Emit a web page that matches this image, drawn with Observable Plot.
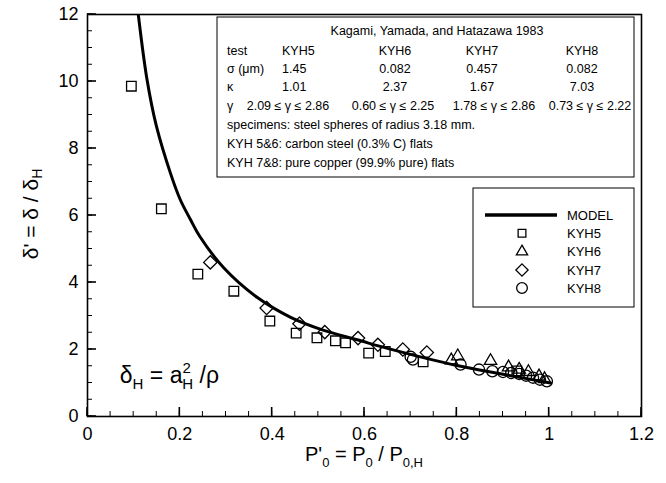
<!DOCTYPE html>
<html><head><meta charset="utf-8">
<script src="https://cdn.jsdelivr.net/npm/d3@7"></script>
<script src="https://cdn.jsdelivr.net/npm/@observablehq/plot@0.6"></script>
<style>body{margin:0;background:#fff} #chart{position:relative;width:666px;height:483px}</style>
</head><body><div id="chart"></div>
<script>
// ---- tick labels ----
const xTicks = [0, 0.2, 0.4, 0.6, 0.8, 1, 1.2];
const xTickLabels = ["0", "0.2", "0.4", "0.6", "0.8", "1", "1.2"];
const yTicks = [0, 2, 4, 6, 8, 10, 12];
const yTickLabels = ["0", "2", "4", "6", "8", "10", "12"];

// ---- model curve ----
const modelP = [0.110, 0.129, 0.149, 0.180, 0.201, 0.223, 0.243, 0.295, 0.368, 0.440, 0.512, 0.584, 0.656, 0.800, 0.900, 1.003];
const modelD = [12.0, 10.05, 8.68, 7.25, 6.47, 5.88, 5.38, 4.44, 3.55, 2.96, 2.57, 2.29, 2.01, 1.52, 1.26, 1.00];

// ---- experimental series ----
const kyh5P = [0.095, 0.160, 0.239, 0.317, 0.395, 0.452, 0.497, 0.537, 0.559, 0.609, 0.645, 0.727, 0.930];
const kyh5D = [9.86, 6.20, 4.25, 3.74, 2.85, 2.49, 2.35, 2.26, 2.20, 1.89, 1.94, 1.63, 1.36];
const kyh6P = [0.788, 0.802, 0.873, 0.912, 0.935, 0.955, 0.978, 0.990];
const kyh6D = [1.68, 1.80, 1.66, 1.47, 1.40, 1.33, 1.20, 1.12];
const kyh7P = [0.266, 0.388, 0.459, 0.514, 0.586, 0.629, 0.683, 0.735];
const kyh7D = [4.60, 3.24, 2.77, 2.52, 2.34, 2.14, 2.00, 1.91];
const kyh8P = [0.700, 0.705, 0.808, 0.848, 0.877, 0.900, 0.918, 0.935, 0.950, 0.965, 0.980, 0.995];
const kyh8D = [1.78, 1.70, 1.55, 1.40, 1.35, 1.33, 1.30, 1.27, 1.22, 1.16, 1.10, 1.05];

// ---- legend / table texts ----
const legendNames = ["MODEL", "KYH5", "KYH6", "KYH7", "KYH8"];
const tableTitle = "Kagami, Yamada, and Hatazawa 1983";
const testNames = ["KYH5", "KYH6", "KYH7", "KYH8"];
const sigmaVals = ["1.45", "0.082", "0.457", "0.082"];
const kappaVals = ["1.01", "2.37", "1.67", "7.03"];
const gammaVals = ["2.09 \u2264 \u03b3 \u2264 2.86", "0.60 \u2264 \u03b3 \u2264 2.25", "1.78 \u2264 \u03b3 \u2264 2.86", "0.73 \u2264 \u03b3 \u2264 2.22"];
const rowHeads = ["test", "\u03c3 (\u03bcm)", "\u03ba", "\u03b3"];
const notes = ["specimens: steel spheres of radius 3.18 mm.", "KYH 5&6: carbon steel (0.3% C) flats", "KYH 7&8: pure copper (99.9% pure) flats"];

const zip = (xs, ys) => xs.map((x, i) => ({x, y: ys[i]}));
const model = zip(modelP, modelD);
const k5 = zip(kyh5P, kyh5D), k6 = zip(kyh6P, kyh6D), k7 = zip(kyh7P, kyh7D), k8 = zip(kyh8P, kyh8D);

const diamond = {draw(ctx, size) { const h = Math.sqrt(size / 2); ctx.moveTo(0, -h); ctx.lineTo(h, 0); ctx.lineTo(0, h); ctx.lineTo(-h, 0); ctx.closePath(); }};
const xMinor = d3.range(0, 1.2001, 0.05);
const yMinor = d3.range(0, 12.001, 0.5);
const FONT = "'Liberation Sans', Arial, Helvetica, sans-serif";

const plot = Plot.plot({
  width: 666, height: 483,
  marginLeft: 87, marginRight: 25, marginTop: 14, marginBottom: 67,
  x: {domain: [0, 1.2]},
  y: {domain: [0, 12]},
  style: {fontFamily: FONT, background: "white", color: "black"},
  marks: [
    Plot.axisX({ticks: xTicks, tickSize: 0, tickPadding: 11, fontSize: 18, tickFormat: d => xTickLabels[xTicks.indexOf(d)], label: null}),
    Plot.axisY({ticks: yTicks, tickSize: 0, tickPadding: 9, fontSize: 18, tickFormat: d => yTickLabels[yTicks.indexOf(d)], label: null}),
    Plot.frame({strokeWidth: 1.6}),
    Plot.line(model, {x: "x", y: "y", stroke: "black", strokeWidth: 3, curve: "catmull-rom", clip: true}),
    Plot.dot(k5, {x: "x", y: "y", symbol: "square", r: 5.4, stroke: "black", strokeWidth: 1.3, fill: "none"}),
    Plot.dot(k6, {x: "x", y: "y", symbol: "triangle", r: 4.6, stroke: "black", strokeWidth: 1.3, fill: "none"}),
    Plot.dot(k7, {x: "x", y: "y", symbol: diamond, r: 5.3, stroke: "black", strokeWidth: 1.3, fill: "none"}),
    Plot.dot(k8, {x: "x", y: "y", symbol: "circle", r: 5.6, stroke: "black", strokeWidth: 1.3, fill: "none"})
  ]
});
document.getElementById("chart").appendChild(plot);

const svg = d3.select(plot);
const sx = plot.scale("x"), sy = plot.scale("y");

// inward ticks (bottom and left), placed through the plot scales
{
  const g = svg.append("g").attr("stroke", "black");
  const x0 = sx.apply(0), y0 = sy.apply(0);
  xMinor.forEach(v => g.append("line").attr("x1", sx.apply(v)).attr("x2", sx.apply(v)).attr("y1", y0).attr("y2", y0 - 5).attr("stroke-width", 1));
  xTicks.forEach(v => g.append("line").attr("x1", sx.apply(v)).attr("x2", sx.apply(v)).attr("y1", y0).attr("y2", y0 - 9).attr("stroke-width", 1.6));
  yMinor.forEach(v => g.append("line").attr("y1", sy.apply(v)).attr("y2", sy.apply(v)).attr("x1", x0).attr("x2", x0 + 5).attr("stroke-width", 1));
  yTicks.forEach(v => g.append("line").attr("y1", sy.apply(v)).attr("y2", sy.apply(v)).attr("x1", x0).attr("x2", x0 + 9).attr("stroke-width", 1.6));
}

// Y axis title
{
  const t = svg.append("text").attr("transform", "translate(38,214) rotate(-90)")
    .attr("text-anchor", "middle").attr("font-family", FONT).attr("font-size", 21).attr("fill", "black");
  t.append("tspan").text("\u03b4' = \u03b4 / \u03b4");
  t.append("tspan").attr("dy", "0.3em").attr("font-size", 14).text("H");
}
// X axis title
{
  const t = svg.append("text").attr("x", 364).attr("y", 461)
    .attr("text-anchor", "middle").attr("font-family", FONT).attr("font-size", 20).attr("fill", "black");
  t.append("tspan").text("P'");
  t.append("tspan").attr("dy", 6).attr("font-size", 13).text("0");
  t.append("tspan").attr("dy", -6).text(" = P");
  t.append("tspan").attr("dy", 6).attr("font-size", 13).text("0");
  t.append("tspan").attr("dy", -6).text(" / P");
  t.append("tspan").attr("dy", 6).attr("font-size", 13).text("0,H");
}
// annotation
{
  const t = svg.append("text").attr("x", sx.apply(0.071)).attr("y", sy.apply(0.99)).attr("text-anchor", "start")
    .attr("font-family", FONT).attr("font-size", 23).attr("fill", "black");
  t.append("tspan").text("\u03b4");
  t.append("tspan").attr("dy", 6).attr("font-size", 15).text("H");
  t.append("tspan").attr("dy", -6).text(" = a");
  t.append("tspan").attr("dy", -10).attr("font-size", 15).text("2");
  t.append("tspan").attr("dy", 16).attr("dx", -8.5).attr("font-size", 15).text("H");
  t.append("tspan").attr("dy", -6).text(" /\u03c1");
}

// table box
{
  const g = svg.append("g").attr("font-family", FONT).attr("font-size", 12.5).attr("fill", "black").attr("text-anchor", "start");
  g.append("rect").attr("x", 217).attr("y", 17).attr("width", 417).attr("height", 160).attr("fill", "white").attr("stroke", "black").attr("stroke-width", 1);
  g.append("text").attr("x", 437).attr("y", 35).attr("text-anchor", "middle").text(tableTitle);
  const rowsY = [55, 72.5, 91, 110];
  const rows = [testNames, sigmaVals, kappaVals, gammaVals];
  const colX = [282, 395, 482, 582];
  const gamX = [288, 393, 494, 590];
  rows.forEach((row, r) => {
    g.append("text").attr("x", 227).attr("y", rowsY[r]).attr("text-anchor", "start").text(rowHeads[r]);
    row.forEach((v, c) => {
      const isG = r === 3;
      const x = isG ? gamX[c] : colX[c];
      const anchor = (isG || c > 0) ? "middle" : "start";
      g.append("text").attr("x", x).attr("y", rowsY[r]).attr("text-anchor", anchor).text(v);
    });
  });
  notes.forEach((n, i) => g.append("text").attr("x", 227).attr("y", 129 + i * 19).attr("text-anchor", "start").text(n));
}

// legend box
{
  const g = svg.append("g").attr("font-family", FONT).attr("font-size", 13).attr("fill", "black").attr("text-anchor", "start");
  g.append("rect").attr("x", 473).attr("y", 188).attr("width", 161).attr("height", 119).attr("fill", "white").attr("stroke", "black").attr("stroke-width", 1);
  const ys = [215, 233.3, 251.7, 270, 288];
  g.append("line").attr("x1", 485).attr("x2", 557).attr("y1", ys[0]).attr("y2", ys[0]).attr("stroke", "black").attr("stroke-width", 3.5);
  const syms = [d3.symbolSquare, d3.symbolTriangle, diamond, d3.symbolCircle];
  const sizes = [60, 55, 75, 90];
  syms.forEach((s, i) => {
    g.append("path").attr("d", d3.symbol(s, sizes[i])()).attr("transform", `translate(522,${ys[i + 1]})`)
      .attr("fill", "none").attr("stroke", "black").attr("stroke-width", 1.3);
  });
  legendNames.forEach((n, i) => g.append("text").attr("x", 567).attr("y", ys[i] + 4.7).attr("text-anchor", "start").text(n));
}
</script></body></html>
